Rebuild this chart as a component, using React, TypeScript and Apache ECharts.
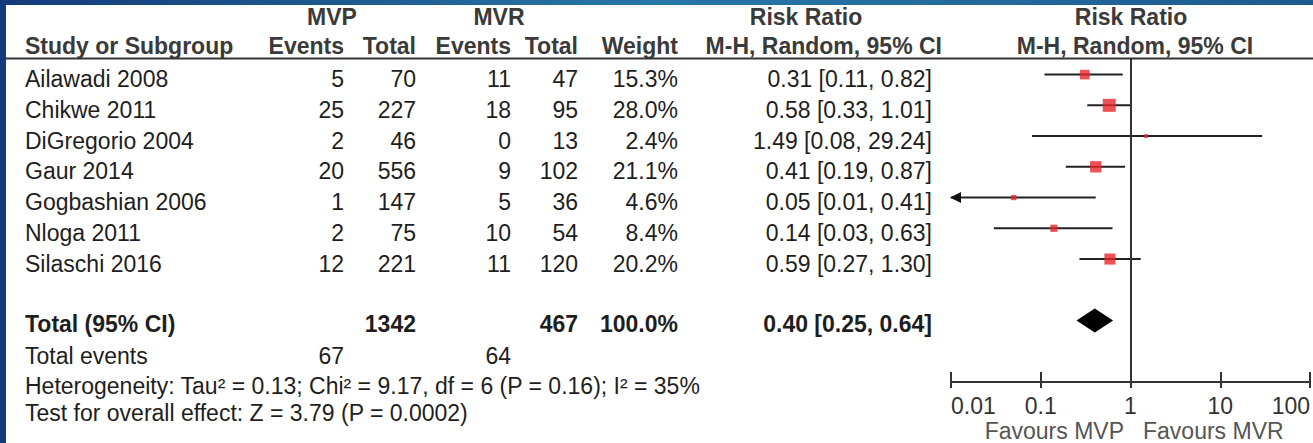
import React, { useEffect, useRef } from 'react';
import * as echarts from 'echarts';

// ---------- data ----------
const studies = ['Ailawadi 2008', 'Chikwe 2011', 'DiGregorio 2004', 'Gaur 2014', 'Gogbashian 2006', 'Nloga 2011', 'Silaschi 2016'];
const mvpEvents = [5, 25, 2, 20, 1, 2, 12];
const mvpTotal = [70, 227, 46, 556, 147, 75, 221];
const mvrEvents = [11, 18, 0, 9, 5, 10, 11];
const mvrTotal = [47, 95, 13, 102, 36, 54, 120];
const weights = [15.3, 28.0, 2.4, 21.1, 4.6, 8.4, 20.2];
const riskRatio = [0.31, 0.58, 1.49, 0.41, 0.05, 0.14, 0.59];
const ciLow = [0.11, 0.33, 0.08, 0.19, 0.01, 0.03, 0.27];
const ciHigh = [0.82, 1.01, 29.24, 0.87, 0.41, 0.63, 1.30];

const totalMvp = 1342;
const totalMvr = 467;
const totalWeight = 100.0;
const pooled = [0.40, 0.25, 0.64]; // RR, low, high
const totalEvents = [67, 64];
const heterogeneityText = 'Heterogeneity: Tau² = 0.13; Chi² = 9.17, df = 6 (P = 0.16); I² = 35%';
const overallText = 'Test for overall effect: Z = 3.79 (P = 0.0002)';
const xTickLabels = ['0.01', '0.1', '1', '10', '100'];
const favourLabels = ['Favours MVP', 'Favours MVR'];

// ---------- layout / style ----------
const W = 1313;
const H = 443;
const FONT = '"Liberation Sans", Arial, Helvetica, sans-serif';
const FS = 23;
const TEXT_COLOR = '#1e1e1e';
const HEAD_COLOR = '#3a3a3a';
const X_MIN = 0.01;
const X_MAX = 100;
const ROW_Y0 = 79;
const ROW_STEP = 30.8;

const fmt2 = (v: number) => v.toFixed(2);
const ciText = (r: number, l: number, h: number) => `${fmt2(r)} [${fmt2(l)}, ${fmt2(h)}]`;

function txt(x: number, y: number, text: string, align: string, bold = false, fill = TEXT_COLOR) {
  return {
    type: 'text',
    x,
    y,
    silent: true,
    style: {
      text,
      fill,
      fontSize: FS,
      fontFamily: FONT,
      fontWeight: bold ? 'bold' : 'normal',
      align,
      verticalAlign: 'middle',
    },
  };
}

export default function App() {
  const ref = useRef<HTMLDivElement>(null);

  useEffect(() => {
    if (!ref.current) return;
    const chart = echarts.init(ref.current, null, { renderer: 'svg', width: W, height: H });

    const cols = { study: 25, mvpE: 344, mvpT: 416, mvrE: 511, mvrT: 578, weight: 678, ci: 932, ciHead: 942 };
    const g: any[] = [];

    // borders
    g.push({ type: 'rect', shape: { x: 0, y: 0, width: 6, height: H }, style: { fill: '#133a7a' }, silent: true });
    g.push({
      type: 'rect',
      shape: { x: 0, y: 0, width: W, height: 5 },
      style: {
        fill: new echarts.graphic.LinearGradient(0, 0, 1, 0, [
          { offset: 0, color: '#133a7a' },
          { offset: 0.5, color: '#2777a8' },
          { offset: 1, color: '#1d5a92' },
        ]),
      },
      silent: true,
    });

    // headers
    const h1 = 17;
    const h2 = 46;
    g.push(txt(332, h1, 'MVP', 'center', true, HEAD_COLOR));
    g.push(txt(499, h1, 'MVR', 'center', true, HEAD_COLOR));
    g.push(txt(806, h1, 'Risk Ratio', 'center', true, HEAD_COLOR));
    g.push(txt(1131, h1, 'Risk Ratio', 'center', true, HEAD_COLOR));
    g.push(txt(cols.study, h2, 'Study or Subgroup', 'left', true, HEAD_COLOR));
    g.push(txt(cols.mvpE, h2, 'Events', 'right', true, HEAD_COLOR));
    g.push(txt(cols.mvpT, h2, 'Total', 'right', true, HEAD_COLOR));
    g.push(txt(cols.mvrE, h2, 'Events', 'right', true, HEAD_COLOR));
    g.push(txt(cols.mvrT, h2, 'Total', 'right', true, HEAD_COLOR));
    g.push(txt(cols.weight, h2, 'Weight', 'right', true, HEAD_COLOR));
    g.push(txt(cols.ciHead, h2, 'M-H, Random, 95% CI', 'right', true, HEAD_COLOR));
    g.push(txt(1135, h2, 'M-H, Random, 95% CI', 'center', true, HEAD_COLOR));
    g.push({ type: 'line', shape: { x1: 6, y1: 58.5, x2: W, y2: 58.5 }, style: { stroke: '#333', lineWidth: 2 }, silent: true });

    // study rows
    studies.forEach((s, i) => {
      const y = ROW_Y0 + ROW_STEP * i;
      g.push(txt(cols.study, y, s, 'left'));
      g.push(txt(cols.mvpE, y, String(mvpEvents[i]), 'right'));
      g.push(txt(cols.mvpT, y, String(mvpTotal[i]), 'right'));
      g.push(txt(cols.mvrE, y, String(mvrEvents[i]), 'right'));
      g.push(txt(cols.mvrT, y, String(mvrTotal[i]), 'right'));
      g.push(txt(cols.weight, y, weights[i].toFixed(1) + '%', 'right'));
      g.push(txt(cols.ci, y, ciText(riskRatio[i], ciLow[i], ciHigh[i]), 'right'));
    });

    // total rows
    const yT = 324;
    g.push(txt(cols.study, yT, 'Total (95% CI)', 'left', true));
    g.push(txt(cols.mvpT, yT, String(totalMvp), 'right', true));
    g.push(txt(cols.mvrT, yT, String(totalMvr), 'right', true));
    g.push(txt(cols.weight, yT, totalWeight.toFixed(1) + '%', 'right', true));
    g.push(txt(cols.ci, yT, ciText(pooled[0], pooled[1], pooled[2]), 'right', true));
    const yE = 356;
    g.push(txt(cols.study, yE, 'Total events', 'left'));
    g.push(txt(cols.mvpE, yE, String(totalEvents[0]), 'right'));
    g.push(txt(cols.mvrE, yE, String(totalEvents[1]), 'right'));
    g.push(txt(cols.study, 386, heterogeneityText, 'left'));
    g.push(txt(cols.study, 413, overallText, 'left'));

    // favours labels
    g.push(txt(1124, 431, favourLabels[0], 'right', false, '#555'));
    g.push(txt(1143, 431, favourLabels[1], 'left', false, '#555'));

    const diamondRow = studies.length + 1;
    const DIAMOND_HALF = 12;

    const option: any = {
      animation: false,
      backgroundColor: '#ffffff',
      grid: { left: 951, right: 1.5, top: 58, bottom: 61, containLabel: false },
      xAxis: [
        {
          type: 'log',
          logBase: 10,
          min: X_MIN,
          max: X_MAX,
          position: 'bottom',
          axisLine: { show: true, onZero: false, lineStyle: { color: '#333', width: 2 } },
          axisTick: { show: true, inside: false, length: 6, lineStyle: { color: '#333', width: 2 } },
          axisLabel: {
            show: true,
            margin: 12,
            fontSize: FS,
            fontFamily: FONT,
            color: '#333',
            alignMinLabel: 'left',
            alignMaxLabel: 'right',
            formatter: (v: number) => xTickLabels[Math.round(Math.log10(v)) + 2] ?? '',
          },
          splitLine: { show: false },
        },
        {
          type: 'log',
          logBase: 10,
          min: X_MIN,
          max: X_MAX,
          position: 'bottom',
          offset: 0,
          axisLine: { show: false, onZero: false },
          axisTick: { show: true, inside: true, length: 10, lineStyle: { color: '#333', width: 2 } },
          axisLabel: { show: false },
          splitLine: { show: false },
        },
      ],
      yAxis: { type: 'value', inverse: true, min: -0.54, max: 10.0, show: false },
      graphic: { elements: g },
      series: [
        {
          type: 'custom',
          name: 'ci',
          xAxisIndex: 0,
          clip: false,
          encode: { x: [0, 1], y: 2 },
          data: studies.map((_, i) => [ciLow[i], ciHigh[i], i]),
          renderItem: (params: any, api: any) => {
            const lo = api.value(0);
            const hi = api.value(1);
            const row = api.value(2);
            const p1 = api.coord([lo, row]);
            const p2 = api.coord([hi, row]);
            const children: any[] = [
              { type: 'line', shape: { x1: p1[0], y1: p1[1], x2: p2[0], y2: p2[1] }, style: { stroke: '#222', lineWidth: 2 } },
            ];
            if (lo <= X_MIN) {
              children.push({
                type: 'polygon',
                shape: { points: [[p1[0] - 1, p1[1]], [p1[0] + 10, p1[1] - 5.5], [p1[0] + 10, p1[1] + 5.5]] },
                style: { fill: '#111' },
              });
            }
            return { type: 'group', children };
          },
          markLine: {
            silent: true,
            symbol: ['none', 'none'],
            label: { show: false },
            lineStyle: { color: '#333', width: 2, type: 'solid' },
            data: [{ xAxis: 1 }],
          },
          z: 2,
        },
        {
          type: 'scatter',
          name: 'rr',
          xAxisIndex: 0,
          symbol: 'rect',
          symbolSize: (_v: any, p: any) => 2.46 * Math.sqrt(weights[p.dataIndex]),
          itemStyle: { color: '#e8262a' },
          data: riskRatio.map((v, i) => [v, i]),
          z: 3,
        },
        {
          type: 'custom',
          name: 'pooled',
          xAxisIndex: 0,
          clip: false,
          encode: { x: [0, 1, 2], y: 3 },
          data: [[pooled[0], pooled[1], pooled[2], diamondRow]],
          renderItem: (params: any, api: any) => {
            const row = api.value(3);
            const c = api.coord([api.value(0), row]);
            const l = api.coord([api.value(1), row]);
            const r = api.coord([api.value(2), row]);
            return {
              type: 'polygon',
              shape: { points: [[l[0], c[1]], [c[0], c[1] - DIAMOND_HALF], [r[0], c[1]], [c[0], c[1] + DIAMOND_HALF]] },
              style: { fill: '#000' },
            };
          },
          z: 3,
        },
      ],
    };

    chart.setOption(option);
    return () => chart.dispose();
  }, []);

  return <div ref={ref} style={{ position: 'fixed', left: 0, top: 0, width: W, height: H, background: '#fff' }} />;
}
